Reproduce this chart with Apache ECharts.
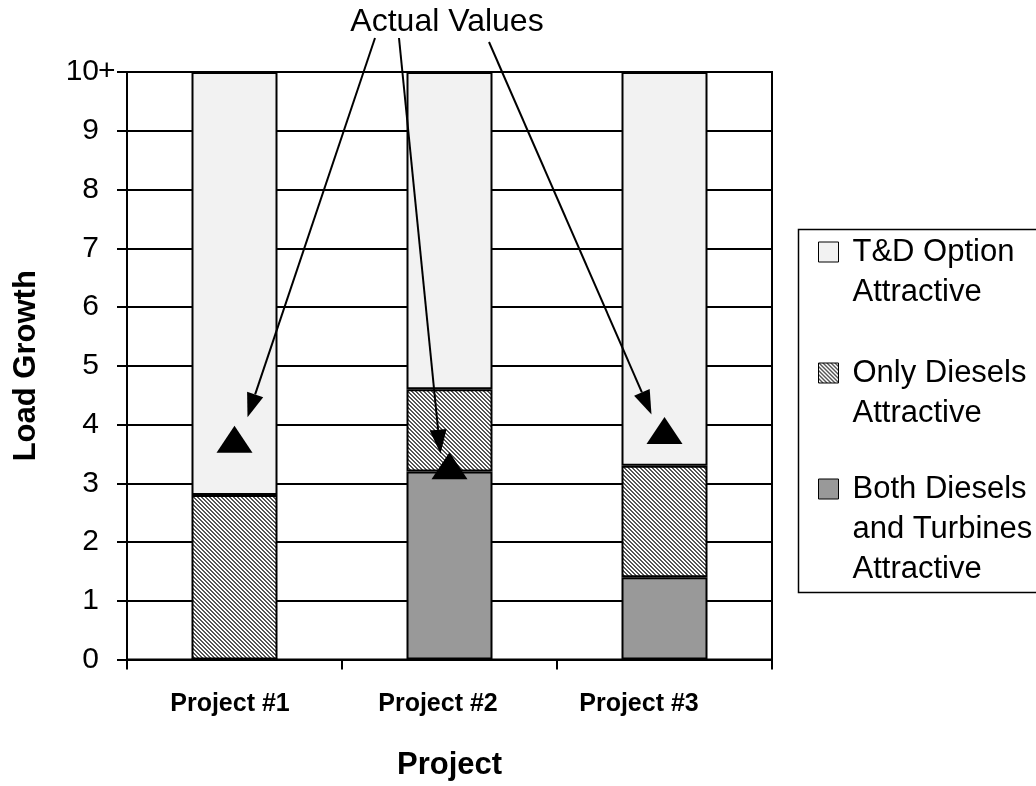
<!DOCTYPE html>
<html>
<head>
<meta charset="utf-8">
<title>Load Growth by Project</title>
<script src="https://cdn.jsdelivr.net/npm/echarts@6/dist/echarts.min.js"></script>
<style>
  html, body { margin: 0; padding: 0; background: #fff; }
  #chart { width: 1036px; height: 786px; }
</style>
</head>
<body>
<div id="chart"></div>
<script>
// ---- data ----
const projects = ['Project #1', 'Project #2', 'Project #3'];
const bothDieselsTurbines = [0, 3.2, 1.4];   // bottom segment
const onlyDiesels = [2.8, 1.4, 1.9];         // middle segment
const tdOption = [7.2, 5.4, 6.7];            // top segment (up to 10+)
const actualValues = [3.75, 3.3, 3.9];       // triangle markers
const yTicks = [0, 1, 2, 3, 4, 5, 6, 7, 8, 9, 10];
const seriesNames = ['T&D Option Attractive', 'Only Diesels Attractive', 'Both Diesels and Turbines Attractive'];
const legendLines = [['T&D Option', 'Attractive'], ['Only Diesels', 'Attractive'], ['Both Diesels', 'and Turbines', 'Attractive']];

const FONT = "'Liberation Sans', Arial, sans-serif";

// light downward-diagonal hatch fill
function hatchPattern() {
  const c = document.createElement('canvas');
  c.width = 4; c.height = 4;
  const g = c.getContext('2d');
  g.fillStyle = '#ffffff';
  g.fillRect(0, 0, 4, 4);
  g.fillStyle = '#555555';
  for (let i = 0; i < 4; i++) {
    g.fillRect(i, i, 1, 1);
    g.fillRect((i + 1) % 4, i, 1, 1);
  }
  return { image: c, repeat: 'repeat' };
}
const hatch = hatchPattern();

const chart = echarts.init(document.getElementById('chart'), null, { renderer: 'canvas' });

// one single-item legend per entry; blank leading lines keep the swatch
// level with the first line of the (vertically centred) label block
const LH = 40;
const legendFirstLineY = [252, 373, 489];
const legends = seriesNames.map((name, i) => {
  const n = legendLines[i].length;
  return {
    orient: 'vertical',
    left: 818,
    top: legendFirstLineY[i] - (2 * n - 1) * LH / 2,
    padding: 0,
    itemWidth: 20,
    itemHeight: 20,
    selectedMode: false,
    icon: 'rect',
    itemStyle: { borderColor: '#000', borderWidth: 1 },
    formatter: () => '\n'.repeat(n - 1) + legendLines[i].join('\n'),
    textStyle: {
      fontFamily: FONT, fontSize: 31, color: '#000', lineHeight: LH,
      padding: [0, 0, 0, 9]
    },
    data: [name]
  };
});

// category label nudges (right padding shifts each label left by half)
const labelShift = [9, 23, 51];

const barStyleBase = { borderColor: '#000', borderWidth: 2 };

const option = {
  backgroundColor: '#ffffff',
  animation: false,
  grid: {
    left: 127, right: 264, top: 72, bottom: 124,
    show: true, borderColor: '#000', borderWidth: 2, backgroundColor: 'transparent'
  },
  legend: legends,
  xAxis: {
    type: 'category',
    data: projects,
    boundaryGap: true,
    axisLine: { lineStyle: { color: '#000', width: 2 } },
    axisTick: { show: true, interval: 0, alignWithLabel: false, length: 10, lineStyle: { color: '#000', width: 2 } },
    axisLabel: {
      interval: 0,
      hideOverlap: false,
      margin: 32,
      color: '#000',
      fontFamily: FONT,
      fontSize: 25,
      fontWeight: 'bold',
      lineHeight: 25,
      formatter: (v, i) => '{c' + i + '|' + v + '}',
      rich: labelShift.reduce((acc, s, i) => {
        acc['c' + i] = { fontFamily: FONT, fontSize: 25, fontWeight: 'bold', color: '#000', padding: [0, s, 0, 0] };
        return acc;
      }, {})
    },
    name: 'Project',
    nameLocation: 'middle',
    nameGap: 106,
    nameTextStyle: { fontFamily: FONT, fontSize: 31, fontWeight: 'bold', color: '#000', verticalAlign: 'middle' }
  },
  yAxis: {
    type: 'value',
    min: yTicks[0],
    max: yTicks[yTicks.length - 1],
    interval: 1,
    axisLine: { show: true, lineStyle: { color: '#000', width: 2 } },
    axisTick: { show: true, length: 10, lineStyle: { color: '#000', width: 2 } },
    splitLine: { show: true, lineStyle: { color: '#000', width: 2 } },
    axisLabel: {
      margin: 28,
      color: '#000',
      fontFamily: FONT,
      fontSize: 30
    },
    name: 'Load Growth',
    nameLocation: 'middle',
    nameGap: 101,
    nameRotate: 90,
    nameTextStyle: { fontFamily: FONT, fontSize: 31, fontWeight: 'bold', color: '#000', verticalAlign: 'middle' }
  },
  series: [
    {
      name: seriesNames[2], type: 'bar', stack: 'load', barWidth: '40%',
      data: bothDieselsTurbines,
      itemStyle: Object.assign({ color: '#999999' }, barStyleBase)
    },
    {
      name: seriesNames[1], type: 'bar', stack: 'load', barWidth: '40%',
      data: onlyDiesels,
      itemStyle: Object.assign({ color: hatch }, barStyleBase)
    },
    {
      name: seriesNames[0], type: 'bar', stack: 'load', barWidth: '40%',
      data: tdOption,
      itemStyle: Object.assign({ color: '#f2f2f2' }, barStyleBase)
    },
    {
      name: 'Actual Values', type: 'scatter',
      data: actualValues.map((v, i) => [i, v]),
      symbol: 'triangle', symbolSize: [36, 27],
      itemStyle: { color: '#000', opacity: 1 },
      z: 5
    }
  ]
};

chart.setOption(option);

// callout: "Actual Values" with arrows pointing at each marker
const arrowTails = [[375, 38], [399, 38], [489, 42]];
const tipOffsets = [[13, -22], [-9, -12], [-13, -16]];

function arrow(x1, y1, x2, y2) {
  const dx = x2 - x1, dy = y2 - y1;
  const len = Math.sqrt(dx * dx + dy * dy);
  const ux = dx / len, uy = dy / len;
  const headLen = 24, headW = 17;
  const bx = x2 - ux * headLen, by = y2 - uy * headLen;
  const px = -uy * headW / 2, py = ux * headW / 2;
  return [
    { type: 'line', z: 100, shape: { x1: x1, y1: y1, x2: bx, y2: by }, style: { stroke: '#000', lineWidth: 2 } },
    { type: 'polygon', z: 100, shape: { points: [[x2, y2], [bx + px, by + py], [bx - px, by - py]] }, style: { fill: '#000' } }
  ];
}

// "+" after the top tick value marks the open-ended range
const topTick = chart.convertToPixel({ yAxisIndex: 0 }, yTicks[yTicks.length - 1]);

const graphics = [
  {
    type: 'text', z: 100, x: 447, y: 22,
    style: { text: 'Actual Values', fontFamily: FONT, fontSize: 32, fill: '#000', align: 'center', verticalAlign: 'middle' }
  },
  {
    type: 'text', z: 100, x: 98, y: topTick,
    style: { text: '+', fontFamily: FONT, fontSize: 30, fill: '#000', align: 'left', verticalAlign: 'middle' }
  },
  {
    type: 'rect', z: 1, left: 796, top: 227,
    shape: { width: 260, height: 363 },
    style: { fill: 'none', stroke: '#000', lineWidth: 1.5 }
  }
];
actualValues.forEach((v, i) => {
  const p = chart.convertToPixel({ seriesIndex: 3 }, [i, v]);
  const tip = [p[0] + tipOffsets[i][0], p[1] + tipOffsets[i][1]];
  arrow(arrowTails[i][0], arrowTails[i][1], tip[0], tip[1]).forEach(g => graphics.push(g));
});
chart.setOption({ graphic: graphics });
</script>
</body>
</html>
